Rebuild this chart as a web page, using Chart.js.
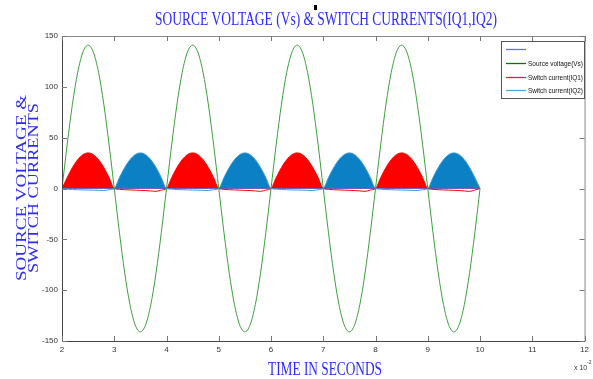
<!DOCTYPE html>
<html>
<head>
<meta charset="utf-8">
<script src="https://cdn.jsdelivr.net/npm/chart.js@4.4.1/dist/chart.umd.min.js"></script>
<style>
html,body{margin:0;padding:0;background:#fff;}
#wrap{width:593px;height:379px;}
</style>
</head>
<body>
<div id="wrap"><canvas id="c" width="593" height="379"></canvas></div>
<script>
// Time axis (x 10^-2 s)
const time = [
  2.0,2.1,2.2,2.3,2.4,2.5,2.6,2.7,2.8,2.9,
  3.0,3.1,3.2,3.3,3.4,3.5,3.6,3.7,3.8,3.9,
  4.0,4.1,4.2,4.3,4.4,4.5,4.6,4.7,4.8,4.9,
  5.0,5.1,5.2,5.3,5.4,5.5,5.6,5.7,5.8,5.9,
  6.0,6.1,6.2,6.3,6.4,6.5,6.6,6.7,6.8,6.9,
  7.0,7.1,7.2,7.3,7.4,7.5,7.6,7.7,7.8,7.9,
  8.0,8.1,8.2,8.3,8.4,8.5,8.6,8.7,8.8,8.9,
  9.0,9.1,9.2,9.3,9.4,9.5,9.6,9.7,9.8,9.9,
  10.0
];
// Source voltage (Vs)
const sourceVoltage = [
  0,43.6,82.9,114.1,134.1,141,134.1,114.1,82.9,43.6,
  0,-43.6,-82.9,-114.1,-134.1,-141,-134.1,-114.1,-82.9,-43.6,
  0,43.6,82.9,114.1,134.1,141,134.1,114.1,82.9,43.6,
  0,-43.6,-82.9,-114.1,-134.1,-141,-134.1,-114.1,-82.9,-43.6,
  0,43.6,82.9,114.1,134.1,141,134.1,114.1,82.9,43.6,
  0,-43.6,-82.9,-114.1,-134.1,-141,-134.1,-114.1,-82.9,-43.6,
  0,43.6,82.9,114.1,134.1,141,134.1,114.1,82.9,43.6,
  0,-43.6,-82.9,-114.1,-134.1,-141,-134.1,-114.1,-82.9,-43.6,
  0
];
// Switch current IQ1
const currentIQ1 = [
  0,10.8,20.6,28.3,33.3,35,33.3,28.3,20.6,10.8,
  0,-0.8,-1.2,-1.4,-1.6,-1.8,-2.0,-2.4,-2.8,-1.5,
  0,10.8,20.6,28.3,33.3,35,33.3,28.3,20.6,10.8,
  0,-0.8,-1.2,-1.4,-1.6,-1.8,-2.0,-2.4,-2.8,-1.5,
  0,10.8,20.6,28.3,33.3,35,33.3,28.3,20.6,10.8,
  0,-0.8,-1.2,-1.4,-1.6,-1.8,-2.0,-2.4,-2.8,-1.5,
  0,10.8,20.6,28.3,33.3,35,33.3,28.3,20.6,10.8,
  0,-0.8,-1.2,-1.4,-1.6,-1.8,-2.0,-2.4,-2.8,-1.5,
  0
];
// Switch current IQ2
const currentIQ2 = [
  0,-0.6,-1.0,-1.2,-1.4,-1.5,-1.6,-1.8,-2.0,-1.2,
  0,10.8,20.6,28.3,33.3,35,33.3,28.3,20.6,10.8,
  0,-0.6,-1.0,-1.2,-1.4,-1.5,-1.6,-1.8,-2.0,-1.2,
  0,10.8,20.6,28.3,33.3,35,33.3,28.3,20.6,10.8,
  0,-0.6,-1.0,-1.2,-1.4,-1.5,-1.6,-1.8,-2.0,-1.2,
  0,10.8,20.6,28.3,33.3,35,33.3,28.3,20.6,10.8,
  0,-0.6,-1.0,-1.2,-1.4,-1.5,-1.6,-1.8,-2.0,-1.2,
  0,10.8,20.6,28.3,33.3,35,33.3,28.3,20.6,10.8,
  0
];
// Unnamed first trace (flat at zero)
const firstTrace = [
  0,0,0,0,0,0,0,0,0,0, 0,0,0,0,0,0,0,0,0,0,
  0,0,0,0,0,0,0,0,0,0, 0,0,0,0,0,0,0,0,0,0,
  0,0,0,0,0,0,0,0,0,0, 0,0,0,0,0,0,0,0,0,0,
  0,0,0,0,0,0,0,0,0,0, 0,0,0,0,0,0,0,0,0,0,
  0
];
const seriesLabels = ['', 'Source voltage(Vs)', 'Switch current(IQ1)', 'Switch current(IQ2)'];
const legendColors = ['#6b6bff', '#007a00', '#ff2020', '#45a8e6'];
const xTickValues = [2,3,4,5,6,7,8,9,10,11,12];
const yTickValues = [-150,-100,-50,0,50,100,150];
const chartTitle = 'SOURCE VOLTAGE (Vs) & SWITCH CURRENTS(IQ1,IQ2)';
const xTitle = 'TIME IN SECONDS';
const yTitleLines = ['SOURCE VOLTAGE &', 'SWITCH CURRENTS'];

const toXY = ys => ys.map((y, i) => ({x: time[i], y: y}));

const TITLE_BLUE = '#2b2bff';
const NARROW = "'Liberation Sans Narrow','Liberation Sans',Arial,sans-serif";
const SERIF = "'Liberation Serif','Times New Roman',serif";

function fitText(ctx, text, cx, cy, targetW, vScale, font, color, rotate, baseline) {
  ctx.save();
  ctx.font = font;
  ctx.fillStyle = color;
  ctx.textAlign = 'center';
  ctx.textBaseline = baseline || 'middle';
  const w = ctx.measureText(text).width;
  ctx.translate(cx, cy);
  if (rotate) ctx.rotate(-Math.PI / 2);
  ctx.scale(targetW / w, vScale);
  ctx.fillText(text, 0, 0);
  ctx.restore();
}

const framePlugin = {
  id: 'frame',
  beforeDraw(chart) {
    const ctx = chart.ctx;
    ctx.save();
    ctx.fillStyle = '#fff';
    ctx.fillRect(0, 0, chart.width, chart.height);
    ctx.restore();
  },
  afterDraw(chart) {
    const ctx = chart.ctx;
    const a = chart.chartArea;
    const xs = chart.scales.x, ys = chart.scales.y;
    ctx.save();
    // frame
    ctx.lineWidth = 1;
    ctx.strokeStyle = '#444';
    ctx.beginPath();
    ctx.moveTo(a.left + 0.5, a.top + 0.5);
    ctx.lineTo(a.left + 0.5, a.bottom + 0.5);
    ctx.lineTo(a.right + 0.5, a.bottom + 0.5);
    ctx.stroke();
    ctx.strokeStyle = '#888';
    ctx.beginPath();
    ctx.moveTo(a.left + 0.5, a.top + 0.5);
    ctx.lineTo(a.right + 0.5, a.top + 0.5);
    ctx.lineTo(a.right + 0.5, a.bottom + 0.5);
    ctx.stroke();
    // inward ticks
    ctx.strokeStyle = '#777';
    const tl = 5;
    ctx.beginPath();
    xTickValues.forEach(v => {
      const px = Math.round(xs.getPixelForValue(v)) + 0.5;
      ctx.moveTo(px, a.bottom); ctx.lineTo(px, a.bottom - tl);
      ctx.moveTo(px, a.top); ctx.lineTo(px, a.top + tl);
    });
    yTickValues.forEach(v => {
      const py = Math.round(ys.getPixelForValue(v)) + 0.5;
      ctx.moveTo(a.left, py); ctx.lineTo(a.left + tl, py);
      ctx.moveTo(a.right, py); ctx.lineTo(a.right - tl, py);
    });
    ctx.stroke();

    // legend box
    const lx = 501, ly = 41, lw = 83, lh = 57;
    ctx.fillStyle = '#fff';
    ctx.fillRect(lx, ly, lw, lh);
    ctx.strokeStyle = '#555';
    ctx.lineWidth = 1;
    ctx.strokeRect(lx + 0.5, ly + 0.5, lw, lh);
    chart.data.datasets.forEach((ds, i) => {
      const yy = Math.round(ly + 8 + i * 13.8);
      ctx.strokeStyle = legendColors[i];
      ctx.lineWidth = 1.3;
      ctx.beginPath();
      ctx.moveTo(lx + 5, yy + 0.5);
      ctx.lineTo(lx + 25, yy + 0.5);
      ctx.stroke();
      if (ds.label) {
        ctx.save();
        ctx.font = '8px ' + NARROW;
        ctx.fillStyle = '#111';
        ctx.textAlign = 'left';
        ctx.textBaseline = 'middle';
        const w = ctx.measureText(ds.label).width;
        const target = Math.min(w, 55);
        ctx.translate(lx + 27, yy + 0.5);
        ctx.scale(target / w, 1);
        ctx.fillText(ds.label, 0, 0);
        ctx.restore();
      }
    });

    // titles
    fitText(ctx, chartTitle, 326, 25, 342, 1, '19px ' + SERIF, TITLE_BLUE, false, 'alphabetic');
    ctx.fillStyle = '#000';
    ctx.fillRect(314, 5, 3, 5);
    fitText(ctx, xTitle, 325, 375, 114, 1, '18px ' + SERIF, TITLE_BLUE, false, 'alphabetic');
    fitText(ctx, yTitleLines[0], 26, 188, 186, 0.86, '18px ' + SERIF, TITLE_BLUE, true, 'alphabetic');
    fitText(ctx, yTitleLines[1], 38, 188, 170, 0.86, '18px ' + SERIF, TITLE_BLUE, true, 'alphabetic');

    // exponent
    ctx.fillStyle = '#333';
    ctx.textBaseline = 'alphabetic';
    ctx.textAlign = 'left';
    ctx.font = '7px ' + NARROW;
    ctx.fillText('x 10', 574, 370);
    ctx.font = '5px ' + NARROW;
    ctx.fillText('-2', 587, 364);
    ctx.restore();
  }
};

const common = {pointRadius: 0, borderWidth: 1, cubicInterpolationMode: 'monotone'};

new Chart(document.getElementById('c'), {
  type: 'line',
  data: {
    datasets: [
      Object.assign({label: seriesLabels[0], data: toXY(firstTrace), borderColor: '#6b6bff', fill: false, order: 3}, common),
      Object.assign({label: seriesLabels[1], data: toXY(sourceVoltage), borderColor: 'rgb(60,160,60)', fill: false, order: 0}, common),
      Object.assign({label: seriesLabels[2], data: toXY(currentIQ1), borderColor: '#ff0000',
        fill: {target: 'origin', above: '#ff0000', below: 'rgba(0,0,0,0)'}, order: 2}, common),
      Object.assign({label: seriesLabels[3], data: toXY(currentIQ2), borderColor: '#3a9ad8',
        fill: {target: 'origin', above: '#0b80c4', below: 'rgba(0,0,0,0)'}, order: 1}, common)
    ]
  },
  options: {
    responsive: false,
    devicePixelRatio: 1,
    animation: false,
    layout: {padding: {top: 36, right: 6, left: 0, bottom: 0}},
    plugins: {legend: {display: false}, title: {display: false}, tooltip: {enabled: false}},
    scales: {
      x: {
        type: 'linear', min: 2, max: 12,
        afterFit: s => { s.height = 38; },
        afterBuildTicks: s => { s.ticks = xTickValues.map(v => ({value: v})); },
        grid: {display: false, drawTicks: false},
        border: {display: false},
        ticks: {padding: 4, font: {size: 8, family: NARROW}, color: '#333', maxRotation: 0, autoSkip: false}
      },
      y: {
        type: 'linear', min: -150, max: 150,
        afterFit: s => { s.width = 62; },
        afterBuildTicks: s => { s.ticks = yTickValues.map(v => ({value: v})); },
        grid: {display: false, drawTicks: false},
        border: {display: false},
        ticks: {padding: 4, font: {size: 8, family: NARROW}, color: '#333', autoSkip: false}
      }
    }
  },
  plugins: [framePlugin]
});
</script>
</body>
</html>
